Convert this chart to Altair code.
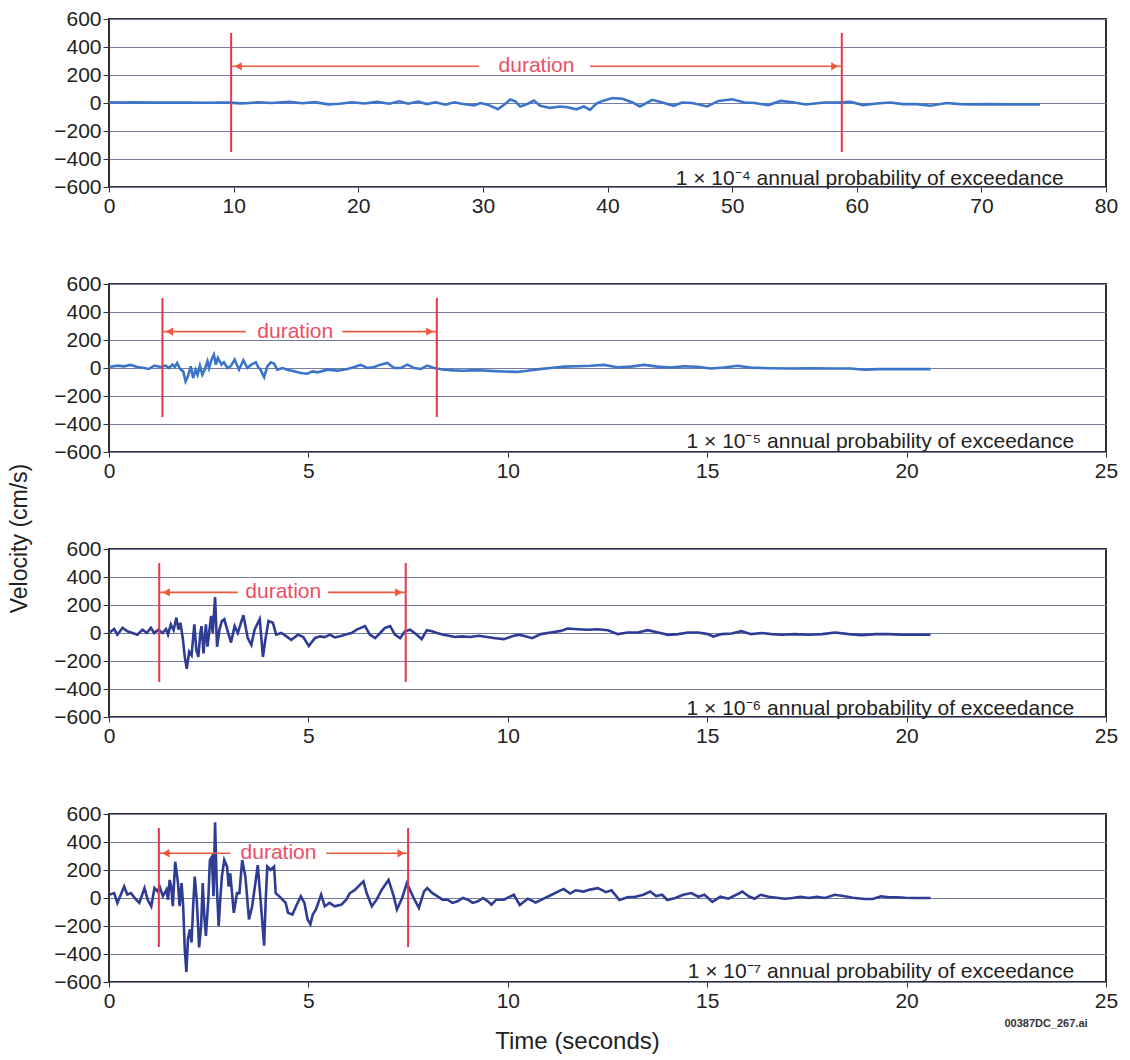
import altair as alt
import pandas as pd

FONT = "Liberation Sans"

# ---------------- data ----------------
p1_t = [0, 1, 2, 3.5, 5, 6.5, 8, 9, 9.7, 10.5,
        11, 12, 13, 14.5, 15.5, 16.5, 17.6, 18.5, 19.5, 20.5,
        21.5, 22.5, 23.3, 24, 24.8, 25.5, 26.2, 27, 27.7, 28.3,
        29.3, 29.8, 30.4, 31.2, 31.7, 32.2, 32.6, 33, 33.6, 34.1,
        34.6, 35.4, 36.2, 36.8, 37.5, 38.1, 38.6, 39.1, 39.6, 40.4,
        41.2, 42.0, 42.6, 43.6, 44.4, 45.3, 46.0, 46.8, 48.0, 48.9,
        50.0, 51.0, 51.8, 52.9, 53.9, 55.0, 55.9, 57.4, 58.4, 59.5,
        60.5, 61.6, 62.7, 63.7, 64.8, 65.9, 67.2, 68.3, 69.3, 70.6,
        72.0, 73.3, 74.7]
p1_v = [5, 4, 5, 3, 3, 4, 2, 3, 3, -3,
        -2, 5, 0, 8, -2, 6, -10, -5, 5, -3,
        8, -5, 12, -5, 10, -8, 5, -12, 5, -5,
        -18, 0, -12, -45, -12, 25, 12, -25, -5, 17,
        -20, -35, -25, -30, -45, -25, -50, -5, 15, 35,
        30, 4, -25, 23, 4, -20, 4, 0, -25, 15,
        27, 4, 0, -15, 15, 4, -11, 4, 4, 8,
        -15, -4, 4, -8, -8, -20, 0, -8, -10, -8,
        -10, -10, -10]

p2_t = [0, 0.21, 0.38, 0.54, 0.71, 0.88, 1.0, 1.13, 1.30, 1.42,
        1.5, 1.59, 1.65, 1.71, 1.78, 1.86, 1.92, 1.98, 2.05, 2.11,
        2.17, 2.22, 2.28, 2.34, 2.40, 2.47, 2.51, 2.57, 2.63, 2.68,
        2.73, 2.82, 2.88, 2.97, 3.05, 3.15, 3.26, 3.37, 3.47, 3.57,
        3.68, 3.74, 3.80, 3.89, 3.97, 4.06, 4.14, 4.22, 4.35, 4.47,
        4.64, 4.81, 4.97, 5.10, 5.23, 5.48, 5.73, 5.98, 6.15, 6.31,
        6.48, 6.65, 6.81, 6.98, 7.15, 7.32, 7.48, 7.65, 7.82, 7.98,
        8.15, 8.40, 8.65, 8.90, 9.16, 9.41, 9.66, 9.91, 10.24, 10.49,
        10.74, 11.07, 11.41, 11.74, 12.08, 12.41, 12.75, 13.08, 13.42, 13.75,
        14.08, 14.42, 14.75, 15.09, 15.42, 15.76, 16.09, 16.59, 17.09, 17.6,
        18.1, 18.6, 18.93, 19.27, 19.77, 20.1, 20.6]
p2_v = [7, 17, 12, 22, 7, 0, -7, 17, 7, 17,
        0, 24, 7, 36, -7, -24, -96, -60, 12, -72,
        -12, -48, 17, -48, -12, 48, 0, 60, 96, 24,
        72, 24, 41, 0, 12, 60, -12, 55, 0, 24,
        41, 7, -12, -65, 12, 41, 31, -12, 0, -12,
        -24, -36, -41, -24, -31, -12, -19, -7, 7, 22,
        0, 7, 24, 36, 0, 0, 24, 0, -7, 17,
        0, -12, -17, -20, -15, -18, -22, -25, -28, -20,
        -10, 0, 10, 12, 16, 22, 5, 10, 22, 10,
        3, 12, 8, -4, 3, 16, 3, -2, -4, -2,
        -4, -4, -12, -8, -8, -8, -8]

p3_t = [0, 0.13, 0.21, 0.34, 0.46, 0.59, 0.71, 0.84, 0.95, 1.05,
        1.13, 1.24, 1.34, 1.43, 1.48, 1.55, 1.62, 1.69, 1.74, 1.79,
        1.85, 1.90, 1.95, 2.01, 2.07, 2.14, 2.19, 2.24, 2.29, 2.32,
        2.37, 2.43, 2.47, 2.56, 2.60, 2.66, 2.71, 2.77, 2.83, 2.89,
        2.99, 3.06, 3.15, 3.23, 3.37, 3.48, 3.57, 3.65, 3.78, 3.86,
        3.92, 4.00, 4.11, 4.19, 4.32, 4.45, 4.57, 4.74, 4.87, 5.01,
        5.16, 5.29, 5.41, 5.54, 5.66, 5.79, 5.91, 6.08, 6.21, 6.42,
        6.54, 6.67, 6.80, 6.92, 7.05, 7.17, 7.30, 7.42, 7.55, 7.72,
        7.84, 7.97, 8.10, 8.22, 8.39, 8.52, 8.68, 8.85, 9.06, 9.27,
        9.48, 9.69, 9.90, 10.11, 10.28, 10.44, 10.61, 10.83, 11.08, 11.33,
        11.5, 11.75, 12.0, 12.26, 12.51, 12.76, 13.01, 13.26, 13.51, 13.77,
        14.02, 14.27, 14.52, 14.77, 15.02, 15.15, 15.36, 15.61, 15.86, 16.1,
        16.37, 16.62, 16.87, 17.2, 17.54, 17.88, 18.21, 18.55, 18.88, 19.22,
        19.55, 19.89, 20.23, 20.6]
p3_v = [0, 29, -12, 37, 12, 0, -12, 24, 0, 37,
        0, 24, 0, 29, -12, 61, 20, 110, 24, 73,
        -37, -171, -256, -134, -159, 61, -122, -171, 0, 49,
        -146, 61, -98, 122, 0, 256, -98, 24, 85, 98,
        0, -68, 49, 0, 127, -37, -85, 24, 98, -171,
        -49, 85, 73, -12, 0, -24, -49, -12, -29, -93,
        -37, -24, -29, -12, -32, -24, -12, 0, 24, 49,
        -12, -37, 0, 37, 49, -12, -37, 12, 24, -12,
        -44, 20, 12, 0, -12, -20, -29, -24, -29, -20,
        -29, -37, -44, -24, -12, -24, -37, -8, 4, 15,
        32, 27, 23, 27, 20, -8, 4, 4, 20, 4,
        -13, -8, 4, 4, -8, -25, -8, -4, 13, -8,
        0, -8, -13, -8, -13, -8, 4, -8, -15, -8,
        -8, -13, -13, -13]

p4_t = [0, 0.13, 0.21, 0.38, 0.46, 0.55, 0.68, 0.76, 0.89, 0.97,
        1.06, 1.14, 1.22, 1.27, 1.35, 1.44, 1.48, 1.52, 1.56, 1.60,
        1.66, 1.73, 1.77, 1.82, 1.86, 1.90, 1.94, 1.98, 2.03, 2.07,
        2.11, 2.15, 2.20, 2.26, 2.31, 2.35, 2.39, 2.43, 2.49, 2.53,
        2.58, 2.62, 2.66, 2.70, 2.75, 2.79, 2.83, 2.89, 2.96, 3.00,
        3.04, 3.13, 3.21, 3.27, 3.34, 3.42, 3.51, 3.59, 3.67, 3.73,
        3.80, 3.89, 3.93, 3.97, 4.05, 4.14, 4.18, 4.27, 4.35, 4.43,
        4.49, 4.60, 4.69, 4.81, 4.90, 4.98, 5.05, 5.11, 5.19, 5.32,
        5.41, 5.53, 5.66, 5.83, 5.95, 6.04, 6.17, 6.29, 6.38, 6.46,
        6.59, 6.71, 6.84, 7.01, 7.14, 7.22, 7.35, 7.47, 7.64, 7.77,
        7.90, 7.98, 8.11, 8.24, 8.36, 8.49, 8.61, 8.74, 8.87, 9.0,
        9.12, 9.25, 9.38, 9.50, 9.59, 9.71, 9.9, 10.15, 10.3, 10.5,
        10.7, 10.9, 11.1, 11.4, 11.56, 11.7, 11.9, 12.06, 12.26, 12.46,
        12.6, 12.8, 13.0, 13.2, 13.4, 13.57, 13.72, 13.87, 14.0, 14.2,
        14.4, 14.6, 14.78, 14.93, 15.13, 15.33, 15.53, 15.73, 15.88, 16.04,
        16.19, 16.34, 16.54, 16.74, 16.94, 17.14, 17.34, 17.55, 17.75, 17.95,
        18.2, 18.45, 18.65, 18.95, 19.15, 19.36, 19.56, 19.76, 19.96, 20.26,
        20.6]
p4_v = [24, 35, -35, 82, 24, 35, -12, -35, 71, -12,
        -59, 71, 47, 82, 12, 59, -12, 129, 82, -59,
        259, 106, -59, 106, -59, -365, -529, -294, -224, -318,
        -59, 153, -12, -353, -200, 106, -129, -271, -12, 271,
        294, 12, 541, 106, -200, -12, 153, 271, 224, 82,
        176, -106, 35, 35, 271, 153, -153, -59, 106, 235,
        -12, -341, -12, 224, 200, 224, 35, 12, -12, -35,
        -106, -118, -59, 12, -35, -153, -188, -118, -82, 24,
        -59, -35, -59, -47, -12, 35, 59, 94, 118, 35,
        -59, -12, 59, 129, 12, -82, 0, 106, 0, -71,
        47, 71, 35, 12, -12, -12, -35, -24, 0, -12,
        -35, -24, 0, -24, -47, -12, -12, 23, -50, -5,
        -32, -5, 23, 65, 32, 55, 46, 60, 70, 42,
        55, -14, 5, 9, 23, 46, 14, 23, -14, 0,
        23, 35, 9, 23, -28, 9, -5, 23, 46, 12,
        -5, 23, 9, 2, -5, 0, 9, 0, 9, 0,
        23, 12, 2, -7, -7, 12, 5, 5, 2, 0,
        0]

series_t = [p1_t, p2_t, p3_t, p4_t]
series_v = [p1_v, p2_v, p3_v, p4_v]

x_max = [80, 25, 25, 25]
x_step = [10, 5, 5, 5]
y_ticks = [-600, -400, -200, 0, 200, 400, 600]

duration_start = [9.8, 1.34, 1.26, 1.25]
duration_end = [58.8, 8.22, 7.44, 7.50]
arrow_left_end = [29.7, 3.43, 3.23, 3.04]
arrow_right_start = [38.6, 5.85, 5.49, 5.45]
duration_label_t = [34.3, 4.67, 4.37, 4.25]
arrow_v = [262, 260, 290, 320]
duration_top = 500
duration_bottom = -350

prob_labels = [
    "1 \u00d7 10\u207b\u2074 annual probability of exceedance",
    "1 \u00d7 10\u207b\u2075 annual probability of exceedance",
    "1 \u00d7 10\u207b\u2076 annual probability of exceedance",
    "1 \u00d7 10\u207b\u2077 annual probability of exceedance",
]
prob_t = [76.6, 24.2, 24.2, 24.2]
prob_v = [-545, -525, -540, -530]

trace_colors = ["#3b74c8", "#3b74c8", "#2f3c93", "#2f3c93"]

# ---------------- styling ----------------
RED = "#e8364b"
ARROW = "#f05a3c"
DUR_TEXT = "#ea4f66"
GRID = "#767da3"
FRAME = "#2f3035"
W, H = 997, 168


def make_panel(i):
    xs = alt.Scale(domain=[0, x_max[i]], nice=False, zero=True)
    ys = alt.Scale(domain=[-600, 600], nice=False)
    xkw = dict(values=list(range(0, x_max[i] + 1, x_step[i])), grid=False, domain=False,
               tickSize=5, tickColor="#333", labelFont=FONT, labelFontSize=21,
               labelColor="#222", labelPadding=3, labelFlush=False)
    if i == 3:
        xkw.update(title="Time (seconds)", titleFont=FONT, titleFontSize=24,
                   titleFontWeight="normal", titleColor="#222", titleX=468, titlePadding=18)
    else:
        xkw["title"] = None
    ykw = dict(values=y_ticks, grid=True, gridColor=GRID, gridWidth=1, domain=False,
               tickSize=6, tickColor="#333", labelFont=FONT, labelFontSize=21,
               labelColor="#222", labelPadding=2, labelFlush=False)
    if i == 2:
        ykw.update(title="Velocity (cm/s)", titleFont=FONT, titleFontSize=23,
                   titleFontWeight="normal", titleColor="#222", titleAngle=270,
                   titleX=-90, titleY=-11, titleAlign="center", titleBaseline="middle")
    else:
        ykw["title"] = None
    X = alt.X("t:Q", scale=xs, axis=alt.Axis(**xkw))
    Y = alt.Y("v:Q", scale=ys, axis=alt.Axis(**ykw))

    trace_df = pd.DataFrame({"t": series_t[i], "v": series_v[i]})
    trace = alt.Chart(trace_df).mark_line(color=trace_colors[i], strokeWidth=2.6).encode(x=X, y=Y)

    vl_df = pd.DataFrame({"t": [duration_start[i], duration_end[i]],
                          "v": [duration_top, duration_top],
                          "v2": [duration_bottom, duration_bottom]})
    vlines = alt.Chart(vl_df).mark_rule(color=RED, strokeWidth=2).encode(
        x=X, y=Y, y2=alt.Y2("v2:Q"))

    arr_df = pd.DataFrame({"t": [duration_start[i], arrow_right_start[i]],
                           "t2": [arrow_left_end[i], duration_end[i]],
                           "v": [arrow_v[i], arrow_v[i]]})
    arrows = alt.Chart(arr_df).mark_rule(color=ARROW, strokeWidth=1.6).encode(
        x=X, x2=alt.X2("t2:Q"), y=Y)

    lh_df = pd.DataFrame({"t": [duration_start[i]], "v": [arrow_v[i]]})
    rh_df = pd.DataFrame({"t": [duration_end[i]], "v": [arrow_v[i]]})
    lhead = alt.Chart(lh_df).mark_point(shape="triangle-left", filled=True, size=70,
                                         color=ARROW, opacity=1, xOffset=7).encode(x=X, y=Y)
    rhead = alt.Chart(rh_df).mark_point(shape="triangle-right", filled=True, size=70,
                                         color=ARROW, opacity=1, xOffset=-7).encode(x=X, y=Y)

    lab_df = pd.DataFrame({"t": [duration_label_t[i]], "v": [arrow_v[i]]})
    dlabel = alt.Chart(lab_df).mark_text(text="duration", font=FONT, fontSize=21,
                                          color=DUR_TEXT, align="center",
                                          baseline="middle").encode(x=X, y=Y)

    prob_df = pd.DataFrame({"t": [prob_t[i]], "v": [prob_v[i]], "label": [prob_labels[i]]})
    plabel = alt.Chart(prob_df).mark_text(font=FONT, fontSize=21, color="#222",
                                           align="right", baseline="middle").encode(
        x=X, y=Y, text="label:N")

    layers = [trace, vlines, arrows, lhead, rhead, dlabel, plabel]
    if i == 3:
        foot_df = pd.DataFrame({"label": ["00387DC_267.ai"]})
        footer = alt.Chart(foot_df).mark_text(font=FONT, fontSize=11, fontWeight="bold",
                                               color="#333", align="center",
                                               baseline="middle").encode(
            x=alt.value(937), y=alt.value(210), text="label:N")
        layers.append(footer)
    return alt.layer(*layers).properties(width=W, height=H)


panels = [make_panel(i) for i in range(4)]

chart = alt.vconcat(*panels, spacing=97, bounds="flush").properties(
    padding={"left": 6, "top": 7, "right": 5, "bottom": 0},
    background="white",
).configure_view(stroke=FRAME, strokeWidth=2)

chart.save("out.html", embed_options={"renderer": "svg", "actions": False})
